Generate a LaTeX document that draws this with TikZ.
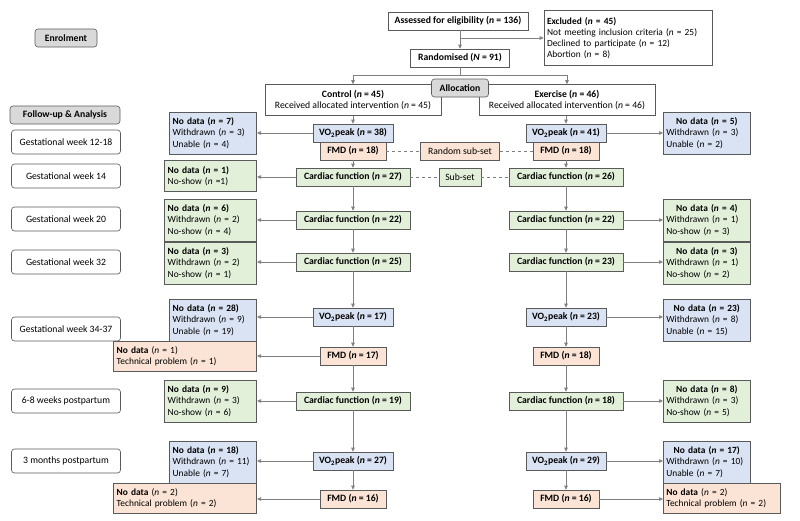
\documentclass[tikz,border=0pt]{standalone}
\usepackage{fontspec}
\setmainfont{Carlito}
\usetikzlibrary{arrows.meta}
\definecolor{bord}{HTML}{5A5A5A}
\definecolor{ln}{HTML}{7F7F7F}
\definecolor{blueF}{HTML}{DAE3F3}
\definecolor{greenF}{HTML}{E2EFD9}
\definecolor{orangeF}{HTML}{FBE4D5}
\definecolor{grayF}{HTML}{D9D9D9}
\newcommand{\nn}{\textit{n}}
\newcommand{\vo}{VO\textsubscript{2}peak}
\newcommand{\ttl}[1]{\makebox[\linewidth][c]{#1}}
\begin{document}
\begin{tikzpicture}[x=1pt,y=-1pt,
  box/.style={draw=bord,line width=0.6pt,font=\fontsize{9.7}{11.2}\selectfont},
  mb/.style={box,minimum height=18pt,inner xsep=3pt,inner ysep=1pt},
  side/.style={box,text width=#1,align=left,inner xsep=3pt,inner ysep=2pt,minimum height=42pt,font=\fontsize{9.4}{11.2}\selectfont},
  blue/.style={fill=blueF},green/.style={fill=greenF},orange/.style={fill=orangeF},
  lab/.style={box,rounded corners=3pt,minimum width=109pt,minimum height=24pt,fill=white},
  hd/.style={box,rounded corners=3pt,fill=grayF,minimum height=18pt,inner xsep=3pt,font=\fontsize{9.7}{11.2}\selectfont\bfseries},
  arr/.style={draw=ln,line width=0.6pt,-{Triangle[length=4pt,width=3.5pt]}},
  ln/.style={draw=ln,line width=0.6pt},
  dsh/.style={draw=ln,line width=0.6pt,dashed}]
\useasboundingbox (0,0) rectangle (800,520);
% labels
\node[hd,minimum width=62pt] (enr) at (66,38) {Enrolment};
\node[hd,minimum width=110pt] (fu) at (65,115) {Follow-up \& Analysis};
\node[lab] (l1) at (66,142) {Gestational week 12-18};
\node[lab] (l2) at (66,176) {Gestational week 14};
\node[lab] (l3) at (66,219) {Gestational week 20};
\node[lab] (l4) at (66,262) {Gestational week 32};
\node[lab] (l5) at (66,329) {Gestational week 34-37};
\node[lab] (l6) at (66,401) {6-8 weeks postpartum};
\node[lab] (l7) at (66,461) {3 months postpartum};
% top
\node[mb,minimum width=140pt] (ass) at (458,21) {\textbf{Assessed for eligibility (\nn{} = 136)}};
\node[side=162pt,minimum height=55pt] (exc) at (628,38) {\textbf{Excluded (\nn{} = 45)}\\Not meeting inclusion criteria (\nn{} = 25)\\Declined to participate (\nn{} = 12)\\Abortion (\nn{} = 8)};
\node[mb,minimum width=99pt] (ran) at (460,58) {\textbf{Randomised (\textit{N} = 91)}};
\node[box,minimum width=176pt,minimum height=31pt,align=center,inner sep=1pt] (ctrl) at (353,100) {\textbf{Control (\nn{} = 45)}\\Received allocated intervention (\nn{} = 45)};
\node[box,minimum width=176pt,minimum height=31pt,align=center,inner sep=1pt] (exe) at (567,100) {\textbf{Exercise (\nn{} = 46)}\\Received allocated intervention (\nn{} = 46)};
\coordinate (sp) at (460,75);
\draw[arr] (ass.south -| ran.north) -- (ran.north);
\draw[arr] (460,38) -- (460,38 -| exc.west);
\draw[ln] (ran.south) -- (sp);
\draw[arr] (sp) -| (ctrl.north);
\draw[arr] (sp) -| (exe.north);
\node[hd,minimum width=57pt] (all) at (460,88) {Allocation};
% control column
\node[mb,blue,minimum width=80pt] (v1L) at (353,133) {\textbf{\vo{} (\nn{} = 38)}};
\node[mb,orange,minimum width=66pt] (f1L) at (353,151) {\textbf{FMD (\nn{} = 18)}};
\node[mb,green,minimum width=114pt] (c1L) at (353,177) {\textbf{Cardiac function (\nn{} = 27)}};
\node[mb,green,minimum width=114pt] (c2L) at (353,220) {\textbf{Cardiac function (\nn{} = 22)}};
\node[mb,green,minimum width=114pt] (c3L) at (353,262) {\textbf{Cardiac function (\nn{} = 25)}};
\node[mb,blue,minimum width=80pt] (v2L) at (353,317) {\textbf{\vo{} (\nn{} = 17)}};
\node[mb,orange,minimum width=66pt] (f2L) at (353,356) {\textbf{FMD (\nn{} = 17)}};
\node[mb,green,minimum width=114pt] (c4L) at (353,401) {\textbf{Cardiac function (\nn{} = 19)}};
\node[mb,blue,minimum width=80pt] (v3L) at (353,461) {\textbf{\vo{} (\nn{} = 27)}};
\node[mb,orange,minimum width=66pt] (f3L) at (353,499) {\textbf{FMD (\nn{} = 16)}};
% exercise column
\node[mb,blue,minimum width=80pt] (v1R) at (566,133) {\textbf{\vo{} (\nn{} = 41)}};
\node[mb,orange,minimum width=66pt] (f1R) at (566,151) {\textbf{FMD (\nn{} = 18)}};
\node[mb,green,minimum width=114pt] (c1R) at (566,177) {\textbf{Cardiac function (\nn{} = 26)}};
\node[mb,green,minimum width=114pt] (c2R) at (566,220) {\textbf{Cardiac function (\nn{} = 22)}};
\node[mb,green,minimum width=114pt] (c3R) at (566,262) {\textbf{Cardiac function (\nn{} = 23)}};
\node[mb,blue,minimum width=80pt] (v2R) at (566,317) {\textbf{\vo{} (\nn{} = 23)}};
\node[mb,orange,minimum width=66pt] (f2R) at (566,356) {\textbf{FMD (\nn{} = 18)}};
\node[mb,green,minimum width=114pt] (c4R) at (566,401) {\textbf{Cardiac function (\nn{} = 18)}};
\node[mb,blue,minimum width=80pt] (v3R) at (566,461) {\textbf{\vo{} (\nn{} = 29)}};
\node[mb,orange,minimum width=66pt] (f3R) at (566,499) {\textbf{FMD (\nn{} = 16)}};
% sub-sets
\node[mb,orange,minimum width=79pt] (rss) at (460,151) {Random sub-set};
\node[mb,green,minimum width=42pt] (ss) at (460,177) {Sub-set};
\draw[dsh] (f1L.east) -- (rss.west); \draw[dsh] (rss.east) -- (f1R.west);
\draw[dsh] (c1L.east) -- (ss.west); \draw[dsh] (ss.east) -- (c1R.west);
% left side boxes
\node[side=81pt,blue,anchor=east] (b1L) at (257,133) {\textbf{No data (\nn{} = 7)}\\Withdrawn (\nn{} = 3)\\Unable (\nn{} = 4)};
\node[side=86pt,green,anchor=east,minimum height=31pt] (g1L) at (257,176) {\textbf{No data (\nn{} = 1)}\\No-show (\nn{} =1)};
\node[side=86pt,green,anchor=east] (g2L) at (257,220) {\textbf{No data (\nn{} = 6)}\\Withdrawn (\nn{} = 2)\\No-show (\nn{} = 4)};
\node[side=86pt,green,anchor=east] (g3L) at (257,263) {\textbf{No data (\nn{} = 3)}\\Withdrawn (\nn{} = 2)\\No-show (\nn{} = 1)};
\node[side=81pt,blue,anchor=east] (b2L) at (257,320) {\textbf{No data (\nn{} = 28)}\\Withdrawn (\nn{} = 9)\\Unable (\nn{} = 19)};
\node[side=137pt,orange,anchor=east,minimum height=30pt] (o2L) at (257,356) {\textbf{No data} (\nn{} = 1)\\Technical problem (\nn{} = 1)};
\node[side=86pt,green,anchor=east] (g4L) at (257,401) {\textbf{No data (\nn{} = 9)}\\Withdrawn (\nn{} = 3)\\No-show (\nn{} = 6)};
\node[side=81pt,blue,anchor=east] (b3L) at (257,462) {\textbf{No data (\nn{} = 18)}\\Withdrawn (\nn{} = 11)\\Unable (\nn{} = 7)};
\node[side=137pt,orange,anchor=east,minimum height=30pt] (o3L) at (257,498) {\textbf{No data} (\nn{} = 2)\\Technical problem (\nn{} = 2)};
% right side boxes
\node[side=81pt,blue,anchor=west] (b1R) at (663,133) {\ttl{\textbf{No data (\nn{} = 5)}}\\Withdrawn (\nn{} = 3)\\Unable (\nn{} = 2)};
\node[side=81pt,green,anchor=west] (g2R) at (663,220) {\ttl{\textbf{No data (\nn{} = 4)}}\\Withdrawn (\nn{} = 1)\\No-show (\nn{} = 3)};
\node[side=81pt,green,anchor=west] (g3R) at (663,263) {\ttl{\textbf{No data (\nn{} = 3)}}\\Withdrawn (\nn{} = 1)\\No-show (\nn{} = 2)};
\node[side=81pt,blue,anchor=west] (b2R) at (663,320) {\ttl{\textbf{No data (\nn{} = 23)}}\\Withdrawn (\nn{} = 8)\\Unable (\nn{} = 15)};
\node[side=81pt,green,anchor=west] (g4R) at (663,401) {\ttl{\textbf{No data (\nn{} = 8)}}\\Withdrawn (\nn{} = 3)\\No-show (\nn{} = 5)};
\node[side=81pt,blue,anchor=west] (b3R) at (663,462) {\ttl{\textbf{No data (\nn{} = 17)}}\\Withdrawn (\nn{} = 10)\\Unable (\nn{} = 7)};
\node[side=111pt,orange,anchor=west,minimum height=30pt] (o3R) at (663,498) {\textbf{No data} (\nn{} = 2)\\Technical problem (\nn{} = 2)};
% vertical arrows
\draw[arr] (ctrl.south) -- (v1L.north);
\draw[arr] (f1L.south) -- (c1L.north);
\draw[arr] (c1L.south) -- (c2L.north);
\draw[arr] (c2L.south) -- (c3L.north);
\draw[arr] (c3L.south) -- (v2L.north);
\draw[arr] (v2L.south) -- (f2L.north);
\draw[arr] (f2L.south) -- (c4L.north);
\draw[arr] (c4L.south) -- (v3L.north);
\draw[arr] (v3L.south) -- (f3L.north);
\draw[arr] (exe.south -| v1R.north) -- (v1R.north);
\draw[arr] (f1R.south) -- (c1R.north);
\draw[arr] (c1R.south) -- (c2R.north);
\draw[arr] (c2R.south) -- (c3R.north);
\draw[arr] (c3R.south) -- (v2R.north);
\draw[arr] (v2R.south) -- (f2R.north);
\draw[arr] (f2R.south) -- (c4R.north);
\draw[arr] (c4R.south) -- (v3R.north);
\draw[arr] (v3R.south) -- (f3R.north);
% side arrows
\draw[arr] (v1L.west) -- (v1L.west -| b1L.east);
\draw[arr] (c1L.west) -- (c1L.west -| g1L.east);
\draw[arr] (c2L.west) -- (c2L.west -| g2L.east);
\draw[arr] (c3L.west) -- (c3L.west -| g3L.east);
\draw[arr] (v2L.west) -- (v2L.west -| b2L.east);
\draw[arr] (f2L.west) -- (f2L.west -| o2L.east);
\draw[arr] (c4L.west) -- (c4L.west -| g4L.east);
\draw[arr] (v3L.west) -- (v3L.west -| b3L.east);
\draw[arr] (f3L.west) -- (f3L.west -| o3L.east);
\draw[arr] (v1R.east) -- (v1R.east -| b1R.west);
\draw[arr] (c2R.east) -- (c2R.east -| g2R.west);
\draw[arr] (c3R.east) -- (c3R.east -| g3R.west);
\draw[arr] (v2R.east) -- (v2R.east -| b2R.west);
\draw[arr] (c4R.east) -- (c4R.east -| g4R.west);
\draw[arr] (v3R.east) -- (v3R.east -| b3R.west);
\draw[arr] (f3R.east) -- (f3R.east -| o3R.west);
\end{tikzpicture}
\end{document}
